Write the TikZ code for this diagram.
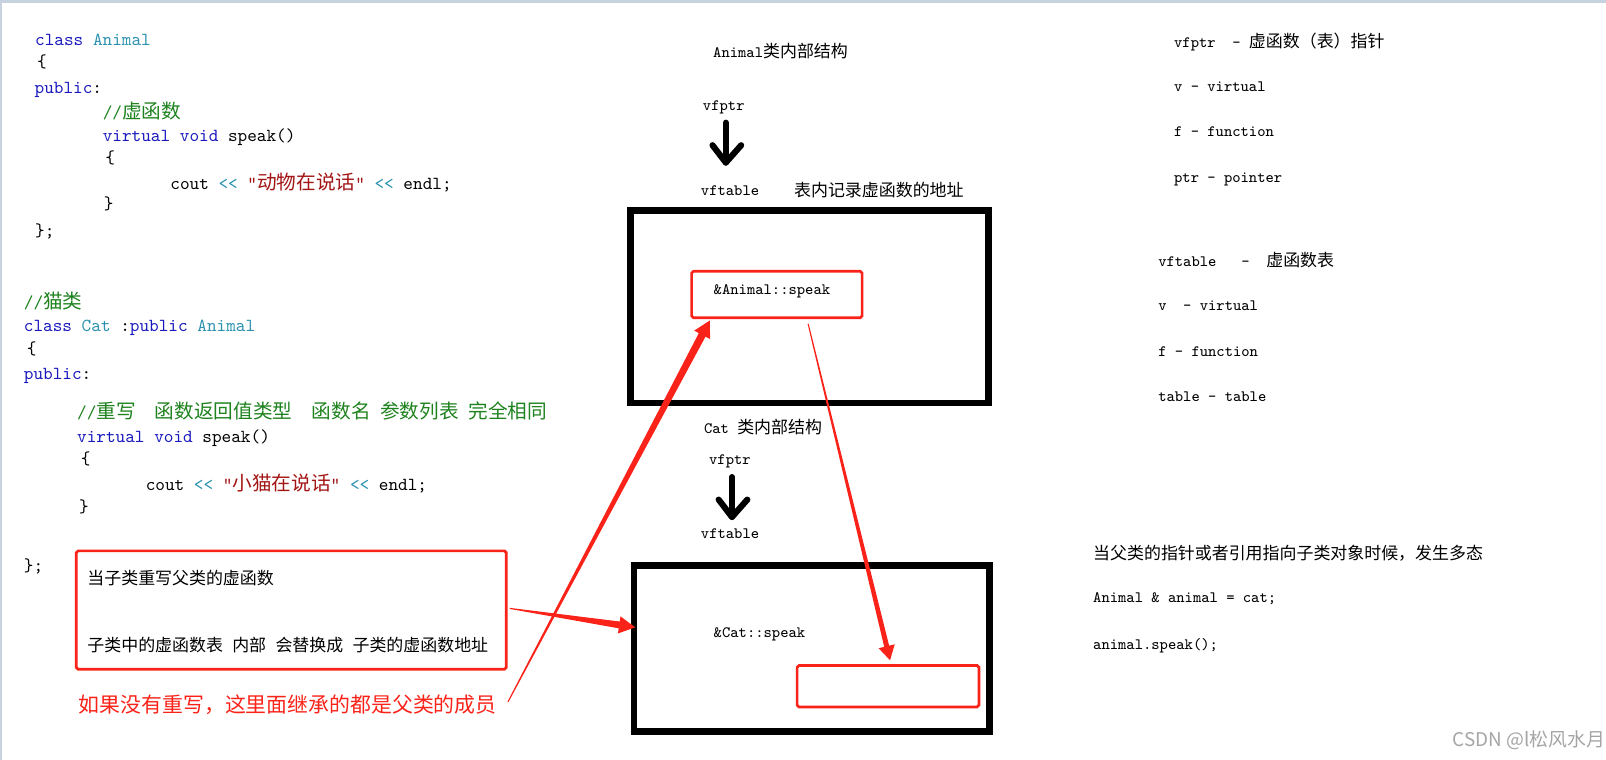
\documentclass[tikz,border=0pt]{standalone}
\usepackage{fontspec}
\usetikzlibrary{calc}
\newfontfamily\cjk[Scale=1.07]{Noto Sans CJK SC}
\newfontfamily\wmfont{Noto Sans CJK SC}
\definecolor{kwblue}{RGB}{25,25,190}
\definecolor{tyteal}{RGB}{43,145,175}
\definecolor{cmgreen}{RGB}{30,130,30}
\definecolor{strred}{RGB}{163,21,21}
\definecolor{penred}{RGB}{250,35,25}
\definecolor{framegray}{RGB}{200,210,222}
\definecolor{wmgray}{RGB}{165,165,165}
\newcommand\ckw[1]{\textcolor{kwblue}{#1}}
\newcommand\cty[1]{\textcolor{tyteal}{#1}}
\newcommand\ccm[1]{\textcolor{cmgreen}{#1}}
\newcommand\cstr[1]{\textcolor{strred}{#1}}
\newcommand\cop[1]{\textcolor{tyteal}{#1}}
\newcommand\opshl{<\kern0pt<}
\tikzset{
  code/.style={anchor=base west, inner sep=0pt, font=\fontsize{10.2}{12}\ttfamily},
  lbl/.style={anchor=base west, inner sep=0pt, font=\fontsize{8.8}{10}\ttfamily},
  notetext/.style={anchor=base west, inner sep=0pt, font=\fontsize{8.8}{10}\cjk},
  bigbox/.style={draw, line width=3.8pt, inner sep=0pt},
  slot/.style={draw=penred, line width=1.5pt, rounded corners=1pt, inner sep=0pt},
  bigarrow/.style={line width=3.4pt, line cap=round, line join=round},
}
% thick hand drawn arrow under a vfptr label
\newcommand\vfarrow[1]{%
  \draw[bigarrow] ($(#1.south)+(2,8)$) -- ($(#1.south)+(2,47)$);
  \draw[bigarrow] ($(#1.south)+(-11,30)$) -- ($(#1.south)+(2,47)$) -- ($(#1.south)+(17,30)$);
}
% red arrow, thin at the start and wide at the head
\newcommand\taperarrow[6]{%
  \coordinate (ta) at #1;
  \coordinate (tb) at #2;
  \coordinate (th) at ($(tb)!#6!(ta)$);
  \fill[penred] ($(ta)!#3!90:(tb)$) -- ($(th)!#4!-90:(ta)$) -- ($(th)!#5!-90:(ta)$) -- (tb)
    -- ($(th)!#5!90:(ta)$) -- ($(th)!#4!90:(ta)$) -- ($(ta)!#3!-90:(tb)$) -- cycle;
}
\begin{document}
\begin{tikzpicture}[x=0.02cm, y=-0.02cm]
    \useasboundingbox (0,0) rectangle (1568,742);
    \fill[framegray] (0,0) rectangle (1568,2.7);
    \fill[framegray] (0,0) rectangle (1.7,742);

    % class Animal
    \node[code] (a1) at (34,44) {\ckw{class} \cty{Animal}};
    \node[code] (a2) at (36,66) {\{};
    \node[code] (a3) at (33.5,91) {\ckw{public}:};
    \node[code] (a4) at (100,115.5) {\ccm{//{\cjk 虚函数}}};
    \node[code] (a5) at (100,138) {\ckw{virtual void} speak()};
    \node[code] (a6) at (102.5,159.5) {\{};
    \node[code] (a7) at (166,185) {cout \cop{\opshl} \cstr{“{\cjk 动物在说话}”} \cop{\opshl} endl;};
    \node[code] (a8) at (101,205) {\}};
    \node[code] (a9) at (34,230.5) {\};};

    % class Cat
    \node[code] (c0) at (23,301.5) {\ccm{//{\cjk 猫类}}};
    \node[code] (c1) at (23,323.3) {\ckw{class} \cty{Cat} :\ckw{public} \cty{Animal}};
    \node[code] (c2) at (26,346) {\{};
    \node[code] (c3) at (23,370.5) {\ckw{public}:};
    \node[code] (c4) at (75,409) {\ccm{//{\cjk 重写}~~{\cjk 函数返回值类型}~~{\cjk 函数名}~{\cjk 参数列表}~{\cjk 完全相同}}};
    \node[code] (c5) at (75,431.7) {\ckw{virtual void} speak()};
    \node[code] (c6) at (78.5,454) {\{};
    \node[code] (c7) at (142,479) {cout \cop{\opshl} \cstr{“{\cjk 小猫在说话}”} \cop{\opshl} endl;};
    \node[code] (c8) at (77,500.3) {\}};
    \node[code] (c9) at (23,558) {\};};

    \node[draw=penred, line width=1.5pt, rounded corners=1pt, minimum width=8.4cm, minimum height=2.31cm] (note) at (284.4,595.6) {};
    \node[notetext] (note1) at (85,571) {当子类重写父类的虚函数};
    \node[notetext] (note2) at (85,636) {子类中的虚函数表\hspace{0.55em}内部\hspace{0.55em}会替换成\hspace{0.55em}子类的虚函数地址};
    \node[notetext, font=\fontsize{10.85}{12}\cjk, text=penred] (warn) at (76.6,696) {如果没有重写，这里面继承的都是父类的成员};

    % Animal layout
    \node[lbl] (titleA) at (696,56) {Animal{\cjk 类内部结构}};
    \node[lbl] (vfpA) at (686,108) {vfptr};
    \node[lbl] (vftA) at (684,190.5) {vftable};
    \node[lbl] (recA) at (775,191.5) {{\cjk 表内记录虚函数的地址}};
    \node[bigbox, minimum width=6.99cm, minimum height=3.76cm] (animalbox) at (790.2,299.5) {};
    \node[slot, minimum width=3.33cm, minimum height=0.906cm] (animalslot) at (758.5,287.5) {};
    \node[lbl] (speakA) at (696.5,287.5) {\&Animal::speak};

    % Cat layout
    \node[lbl] (titleB) at (687,423) {Cat {\cjk 类内部结构}};
    \node[lbl] (vfpB) at (692,454) {vfptr};
    \node[lbl] (vftB) at (684,525.7) {vftable};
    \node[bigbox, minimum width=6.95cm, minimum height=3.24cm] (catbox) at (792.75,633) {};
    \node[lbl] (speakB) at (696.5,622.7) {\&Cat::speak};
    \node[slot, minimum width=3.55cm, minimum height=0.81cm] (catslot) at (867,670) {};

    \node[lbl] (defvfptr) at (1146,46.3) {vfptr~~-~{\cjk 虚函数（表）指针}};
    \node[lbl] (defv1) at (1146,89.6) {v - virtual};
    \node[lbl] (deff1) at (1146,133.6) {f - function};
    \node[lbl] (defptr) at (1146,178) {ptr - pointer};
    \node[lbl] (defvftable) at (1130.5,259.8) {vftable~~~-~~{\cjk 虚函数表}};
    \node[lbl] (defv2) at (1130.5,303.5) {v~~- virtual};
    \node[lbl] (deff2) at (1130.5,347.7) {f - function};
    \node[lbl] (deftable) at (1130.5,392.3) {table - table};
    \node[notetext] (poly) at (1067,546.3) {当父类的指针或者引用指向子类对象时候，发生多态};
    \node[lbl] (refline) at (1067,588.2) {Animal \& animal = cat;};
    \node[lbl] (callline) at (1067,633.8) {animal.speak();};
    \node[anchor=base west, inner sep=0pt, font=\fontsize{10.5}{12}\wmfont, text=wmgray] (mark) at (1418,729) {CSDN @l松风水月};

    \vfarrow{vfpA}
    \vfarrow{vfpB}
    \taperarrow{($(note.east)+(2,-1.6)$)}{($(catbox.west)+(4.5,-20.5)$)}{0.3pt}{1.9pt}{4.8pt}{9pt}
    \taperarrow{($(warn.east)+(10.7,-3.2)$)}{($(animalslot.south west)+(19,1.5)$)}{0.3pt}{2.1pt}{5pt}{9pt}
    \taperarrow{($(animalslot.south)+(30.5,4.7)$)}{($(catslot.north)+(2,-3.8)$)}{0.3pt}{1.4pt}{4.6pt}{8pt}
\end{tikzpicture}
\end{document}
